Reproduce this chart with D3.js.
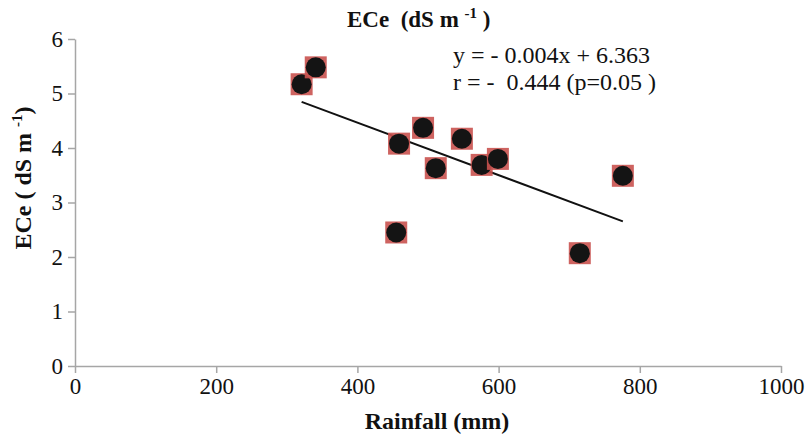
<!DOCTYPE html>
<html><head><meta charset="utf-8">
<script src="https://cdn.jsdelivr.net/npm/d3@7"></script>
<style>body{margin:0;background:#fff}svg{display:block}text{font-family:"Liberation Serif","Times New Roman",serif;fill:#111}</style>
</head><body><svg id="c" width="806" height="437"></svg>
<script>
const rainfall = [321, 341, 459, 455, 493, 511, 548, 576, 599, 715, 776];
const ece = [5.17, 5.48, 4.08, 2.45, 4.37, 3.63, 4.17, 3.69, 3.80, 2.07, 3.49];
const xTicks = [0, 200, 400, 600, 800, 1000];
const yTicks = [0, 1, 2, 3, 4, 5, 6];
const eqLines = ["y = - 0.004x + 6.363", "r = -  0.444 (p=0.05 )"];

const svg = d3.select("#c");
const x = d3.scaleLinear().domain([0, 1000]).range([75, 781]);
const y = d3.scaleLinear().domain([0, 6]).range([366, 39]);
const axisColor = "#a6a6a6";
const serif = '"Liberation Serif","Times New Roman",serif';

const gx = svg.append("g").attr("transform", `translate(0,${y(0)})`)
  .call(d3.axisBottom(x).tickValues(xTicks).tickFormat(d3.format("d")).tickSize(7).tickSizeOuter(0).tickPadding(5));
const gy = svg.append("g").attr("transform", `translate(${x(0)},0)`)
  .call(d3.axisLeft(y).tickValues(yTicks).tickFormat(d3.format("d")).tickSize(7).tickSizeOuter(0).tickPadding(5));
[gx, gy].forEach(g => {
  g.attr("font-family", serif).attr("font-size", 23);
  g.select(".domain").attr("stroke", axisColor).attr("stroke-width", 1.5);
  g.selectAll(".tick line").attr("stroke", axisColor).attr("stroke-width", 1.5);
  g.selectAll(".tick text").attr("fill", "#111");
});

// regression line from data
const n = rainfall.length;
const mx = d3.mean(rainfall), my = d3.mean(ece);
let sxy = 0, sxx = 0;
rainfall.forEach((v, i) => { sxy += (v - mx) * (ece[i] - my); sxx += (v - mx) * (v - mx); });
const slope = sxy / sxx, icpt = my - slope * mx;
const x0 = d3.min(rainfall), x1 = d3.max(rainfall);
svg.append("line")
  .attr("x1", x(x0)).attr("y1", y(icpt + slope * x0))
  .attr("x2", x(x1)).attr("y2", y(icpt + slope * x1))
  .attr("stroke", "#111").attr("stroke-width", 2);

// markers
const pts = svg.append("g").selectAll("g").data(d3.range(n)).join("g")
  .attr("transform", i => `translate(${x(rainfall[i])},${y(ece[i])})`);
pts.append("rect").attr("x", -11).attr("y", -11).attr("width", 22).attr("height", 22)
  .attr("fill", "#c9524f").attr("opacity", 0.9);
pts.append("circle").attr("r", 10).attr("fill", "#141414");

// title
const t = svg.append("text").attr("x", 347).attr("y", 27).attr("font-size", 23)
  .attr("font-weight", "bold").style("white-space", "pre");
t.append("tspan").text("ECe  (dS m ");
t.append("tspan").attr("font-size", 15).attr("dy", -9).text("-1");
t.append("tspan").attr("dy", 9).text(" )");

// equation
eqLines.forEach((s, i) => {
  svg.append("text").attr("x", 453).attr("y", 63 + i * 27).attr("font-size", 24)
    .style("white-space", "pre").text(s);
});

// axis titles
svg.append("text").attr("x", 437).attr("y", 429).attr("text-anchor", "middle")
  .attr("font-size", 24).attr("font-weight", "bold").text("Rainfall (mm)");
const yl = svg.append("text").attr("transform", "translate(31,178) rotate(-90)")
  .attr("text-anchor", "middle").attr("font-size", 24).attr("font-weight", "bold")
  .style("white-space", "pre");
yl.append("tspan").text("ECe ( dS m ");
yl.append("tspan").attr("font-size", 15).attr("dy", -9).text("-1");
yl.append("tspan").attr("dy", 9).text(")");
</script></body></html>
